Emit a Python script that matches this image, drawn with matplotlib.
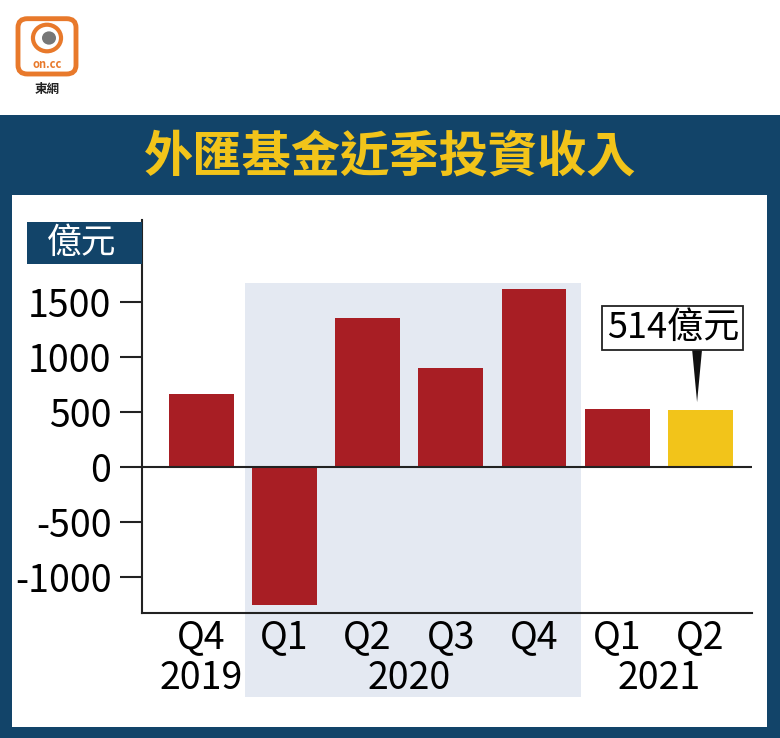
import matplotlib.pyplot as plt
from matplotlib.patches import Rectangle, FancyBboxPatch, Circle, Polygon

# data (億元)
quarters = ["Q4", "Q1", "Q2", "Q3", "Q4", "Q1", "Q2"]
values = [665, -1255, 1355, 900, 1620, 527, 514]
years = ["2019", "2020", "2021"]
year_pos = [0, 2.5, 5.5]
yticks = [-1000, -500, 0, 500, 1000, 1500]

navy = "#124469"
red = "#A81E24"
gold = "#F2C41A"
shade = "#E4E9F2"
W, H = 780, 738

plt.rcParams["font.family"] = ["Noto Sans CJK TC", "DejaVu Sans"]

fig = plt.figure(figsize=(7.8, 7.38), dpi=100)
fig.patch.set_facecolor("white")

def fx(px):
    return px / W

def fy(py):
    return 1 - py / H

# navy frame and white panel
fig.patches.append(Rectangle((0, 0), 1, fy(115), transform=fig.transFigure,
                             facecolor=navy, edgecolor="none", zorder=-3))
fig.patches.append(Rectangle((fx(12), fy(727)), fx(767) - fx(12), fy(195) - fy(727),
                             transform=fig.transFigure, facecolor="white",
                             edgecolor="none", zorder=-2))

fig.text(0.5, fy(157), "外匯基金近季投資收入", color=gold, fontsize=35.5,
         weight="bold", ha="center", va="center")

# logo
fig.patches.append(FancyBboxPatch((fx(18), fy(74)), fx(58), fy(15) - fy(74) - 0.005,
                                  boxstyle="round,pad=0,rounding_size=0.012",
                                  transform=fig.transFigure, facecolor="white",
                                  edgecolor="#E8792B", linewidth=3.5))
fig.patches.append(Circle((fx(47), fy(38)), 0.018, transform=fig.transFigure,
                          facecolor="none", edgecolor="#E8792B", linewidth=3))
fig.patches.append(Circle((fx(49), fy(38)), 0.009, transform=fig.transFigure,
                          facecolor="#777777", edgecolor="none"))
fig.text(fx(47), fy(65), "on.cc", color="#E8792B", fontsize=8, weight="bold",
         ha="center", va="center")
fig.text(fx(47), fy(89), "東網", color="#222222", fontsize=9, weight="bold",
         ha="center", va="center")

ax = fig.add_axes([fx(142), fy(613), fx(752) - fx(142), fy(220) - fy(613)])
ax.set_zorder(1)
ax.patch.set_visible(False)

x = list(range(len(values)))
colors = [red] * (len(values) - 1) + [gold]
ax.bar(x, values, width=0.78, color=colors, zorder=3)

ax.set_xlim(-0.71, 6.62)
ax.set_ylim(-1327, 2245)

# 2020 shaded band (extends below axis behind labels)
ax.add_patch(Rectangle((0.53, -2090), 4.56 - 0.53, 1673 + 2090, facecolor=shade,
                       edgecolor="none", zorder=0, clip_on=False))

ax.axhline(0, color="#222222", linewidth=1.5, zorder=4)

for side in ["top", "right"]:
    ax.spines[side].set_visible(False)
for side in ["left", "bottom"]:
    ax.spines[side].set_linewidth(1.5)
    ax.spines[side].set_color("#222222")

ax.set_yticks(yticks)
ax.set_yticklabels([str(v) for v in yticks], fontsize=27)
ax.tick_params(axis="y", length=16, width=1.5, pad=6, color="#222222")
ax.set_xticks([])

tr = ax.get_xaxis_transform()
for xi, q in zip(x, quarters):
    ax.text(xi, -0.063, q, transform=tr, fontsize=27, ha="center", va="center")
for xp, yr in zip(year_pos, years):
    ax.text(xp, -0.166, yr, transform=tr, fontsize=27, ha="center", va="center")

# unit box
fig.patches.append(Rectangle((fx(27), fy(264)), fx(142) - fx(27), fy(222) - fy(264),
                             transform=fig.transFigure, facecolor=navy,
                             edgecolor="none", zorder=2))
fig.text(fx(82), fy(243), "億元", color="white", fontsize=25, ha="center",
         va="center", zorder=3)

# callout for latest value
last = len(values) - 1
tip = (last - 0.04, values[last] + 75)
ax.annotate(f"{values[last]}億元", xy=tip, xytext=(last - 0.33, 1264),
            fontsize=26, ha="center", va="center",
            bbox=dict(boxstyle="square,pad=0.12", facecolor="white",
                      edgecolor="#222222", linewidth=1.3),
            zorder=6)
ax.add_patch(Polygon([(last - 0.10, 1070), (last + 0.02, 1070), tip],
                     closed=True, facecolor="#111111", edgecolor="none", zorder=5))

fig.savefig("out.png", dpi=100)
